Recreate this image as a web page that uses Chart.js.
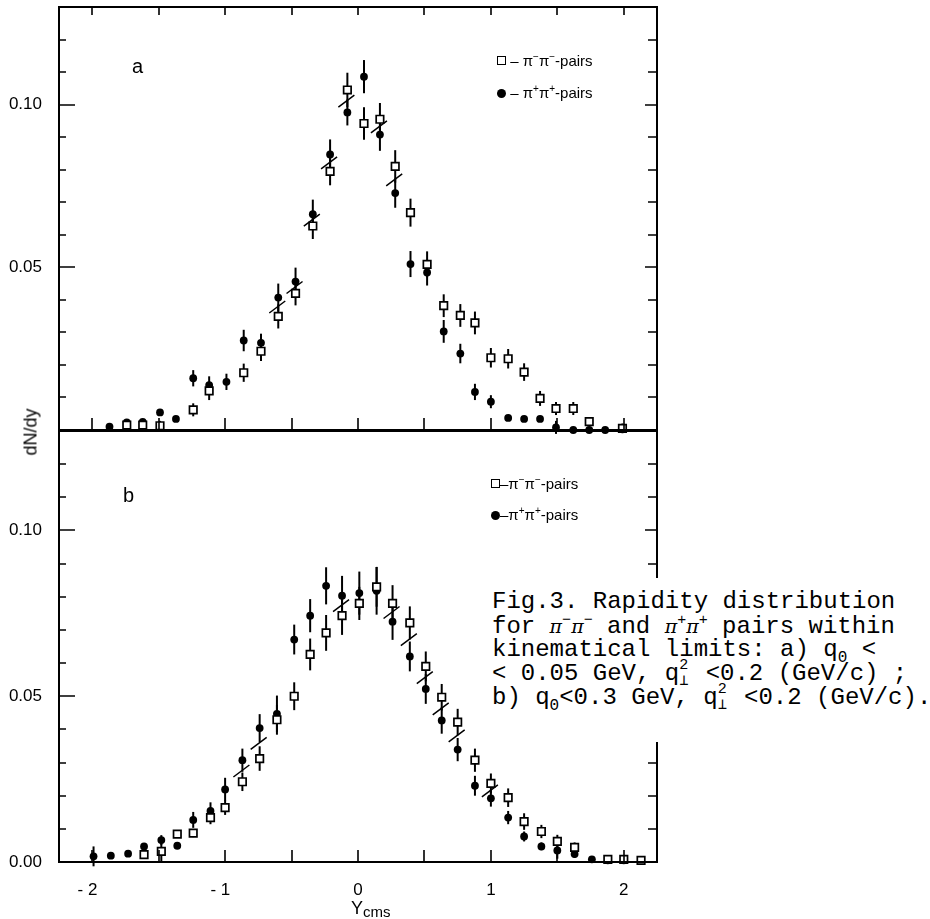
<!DOCTYPE html>
<html>
<head>
<meta charset="utf-8">
<script src="https://cdn.jsdelivr.net/npm/chart.js@4.4.1/dist/chart.umd.min.js"></script>
<style>
  body { margin: 0; background: #fff; }
  #page { position: relative; width: 930px; height: 919px; overflow: hidden; font-family: "Liberation Sans", Arial, sans-serif; color: #000; }
  canvas { position: absolute; left: 0; top: 0; }
  .txt { position: absolute; white-space: nowrap; }
  .legend { font-size: 15px; line-height: 18px; }
  .sq { display: inline-block; width: 7px; height: 7px; border: 1.6px solid #000; background: #fff; vertical-align: 1px; }
  .dot { display: inline-block; width: 9px; height: 9px; border-radius: 50%; background: #000; vertical-align: 0px; }
  .legend sup { font-size: 10px; line-height: 0; }
  #caption { left: 492px; top: 578px; padding: 12px 8px 32px 0; background: #fff; font-family: "Liberation Mono", "DejaVu Sans Mono", monospace; font-size: 24px; line-height: 24px; }
  #caption .ln { height: 24px; }
  #caption i { font-family: "DejaVu Serif", serif; font-size: 19px; }
  #caption sup { font-size: 15px; line-height: 0; }
  #caption sub { font-size: 16px; line-height: 0; }
  .st { display: inline-block; position: relative; width: 12px; height: 10px; }
  .st span { position: absolute; left: 0; font-size: 15px; line-height: 15px; }
</style>
</head>
<body>
<div id="page">
  <canvas id="chartA" width="930" height="919"></canvas>
  <canvas id="chartB" width="930" height="919"></canvas>

  <div class="txt" style="left:132px; top:56px; font-size:20px; line-height:20px;">a</div>
  <div class="txt" style="left:123px; top:485px; font-size:20px; line-height:20px;">b</div>

  <div class="txt legend" style="left:497px; top:52px;"><span class="sq"></span> – π<sup>−</sup>π<sup>−</sup>-pairs</div>
  <div class="txt legend" style="left:497px; top:84px;"><span class="dot"></span> – π<sup>+</sup>π<sup>+</sup>-pairs</div>
  <div class="txt legend" style="left:491px; top:475px;"><span class="sq"></span>–π<sup>−</sup>π<sup>−</sup>-pairs</div>
  <div class="txt legend" style="left:491px; top:506px;"><span class="dot"></span>–π<sup>+</sup>π<sup>+</sup>-pairs</div>

  <div class="txt" style="top:432px; left:31px; font-size:18px; transform: translate(-50%, -50%) rotate(-90deg);">dN/dy</div>
  <div class="txt" style="left:351px; top:899px; font-size:18px; line-height:18px;">Y<span style="font-size:15px; position:relative; top:3px;">cms</span></div>

  <div class="txt" id="caption">
    <div class="ln">Fig.3. Rapidity distribution</div>
    <div class="ln">for <i>π</i><sup>−</sup><i>π</i><sup>−</sup> and <i>π</i><sup>+</sup><i>π</i><sup>+</sup> pairs within</div>
    <div class="ln">kinematical limits: a) q<sub>0</sub> &lt;</div>
    <div class="ln">&lt; 0.05 GeV, q<span class="st"><span style="top:-12px">2</span><span style="top:4px">⊥</span></span> &lt;0.2 (GeV/c) ;</div>
    <div class="ln">b) q<sub>0</sub>&lt;0.3 GeV, q<span class="st"><span style="top:-12px">2</span><span style="top:4px">⊥</span></span> &lt;0.2 (GeV/c).</div>
  </div>
</div>

<script>
// rapidity bins, panel a
const binsA = [-1.87, -1.74, -1.62, -1.49, -1.37, -1.24, -1.12, -0.99, -0.86, -0.73, -0.60, -0.47, -0.34, -0.21, -0.08, 0.045,
               0.165, 0.28, 0.395, 0.52, 0.645, 0.77, 0.88, 1.0, 1.13, 1.25, 1.37, 1.49, 1.62, 1.74, 1.86, 1.99];
// pi- pi- pairs (open squares)
const minusA = [null, 0.0015, 0.0015, 0.0013, null, 0.0062, 0.012, null, 0.0176, 0.0242, 0.0349, 0.042, 0.0627, 0.0795, 0.1045, 0.0942,
                0.0955, 0.081, 0.0668, 0.0509, 0.0382, 0.0352, 0.0329, 0.0222, 0.0219, 0.0178, 0.0097, 0.0066, 0.0066, 0.0026, null, 0.0005];
const minusErrA = [null, 0.001, 0.001, 0.0015, null, 0.002, 0.0028, null, 0.0028, 0.003, 0.0037, 0.0037, 0.004, 0.0043, 0.0053, 0.005,
                   0.005, 0.005, 0.0043, 0.004, 0.0035, 0.0035, 0.0035, 0.003, 0.003, 0.0027, 0.0023, 0.002, 0.002, 0, null, 0.0015];
// pi+ pi+ pairs (full circles)
const plusA = [0.001, 0.0023, 0.0025, 0.0054, 0.0034, 0.0159, 0.0138, 0.0148, 0.0275, 0.0268, 0.0407, 0.0456, 0.0663, 0.0847, 0.0976, 0.1086,
               0.0908, 0.0728, 0.051, 0.0484, 0.0303, 0.0235, 0.0117, 0.0087, 0.0037, 0.0034, 0.0034, 0.0008, 0, 0, 0, null];
const plusErrA = [0, 0.0005, 0.0008, 0.001, 0, 0.0025, 0.0027, 0.0025, 0.0033, 0.0028, 0.0043, 0.0043, 0.0045, 0.0046, 0.004, 0.0051,
                  0.005, 0.0045, 0.004, 0.004, 0.0035, 0.003, 0.0025, 0.002, 0, 0, 0, 0.002, 0, 0, 0, null];
// bins where the overlap slash is drawn
const slashA = [10, 11, 12, 13, 14, 16, 17];

// rapidity bins, panel b
const binsB = [-1.99, -1.86, -1.73, -1.61, -1.48, -1.36, -1.24, -1.11, -1.0, -0.87, -0.74, -0.61, -0.48, -0.36, -0.24, -0.12, 0.01,
               0.14, 0.26, 0.39, 0.51, 0.63, 0.75, 0.88, 1.0, 1.13, 1.25, 1.38, 1.5, 1.63, 1.76, 1.88, 2.0, 2.13];
const minusB = [null, null, null, 0.0022, 0.0032, 0.0084, 0.0087, 0.0134, 0.0164, 0.0242, 0.0312, 0.0429, 0.050, 0.0626, 0.0691, 0.0743, 0.078,
                0.083, 0.078, 0.0721, 0.059, 0.0497, 0.0422, 0.0307, 0.0237, 0.0194, 0.0122, 0.0092, 0.0062, 0.0044, null, 0.0008, 0.0008, 0.0005];
const minusErrB = [null, null, null, 0.0008, 0.003, 0.001, 0.0012, 0.002, 0.0022, 0.0028, 0.0037, 0.0045, 0.0042, 0.0048, 0.0054, 0.0058, 0.005,
                   0.006, 0.0055, 0.005, 0.0045, 0.004, 0.004, 0.0035, 0.003, 0.0028, 0.0025, 0.002, 0.002, 0.0015, null, 0, 0.0012, 0];
const plusB = [0.0017, 0.0019, 0.0025, 0.0047, 0.0066, 0.0049, 0.0127, 0.0154, 0.0219, 0.0307, 0.0404, 0.0447, 0.0671, 0.0743, 0.0833, 0.0803, 0.0811,
               0.0818, 0.0725, 0.062, 0.0522, 0.0427, 0.0339, 0.023, 0.0192, 0.0134, 0.0077, 0.0047, 0.0035, 0.0024, 0.0008, 0.0005, 0.0005, null];
const plusErrB = [0.003, 0.0008, 0.0006, 0.001, 0.0015, 0.0008, 0.0024, 0.0026, 0.0035, 0.0035, 0.0042, 0.0055, 0.0045, 0.005, 0.0056, 0.006, 0.0065,
                  0.0072, 0.0055, 0.0045, 0.0045, 0.004, 0.0035, 0.003, 0.0025, 0.002, 0.0015, 0.0012, 0.0025, 0.0012, 0, 0, 0, null];
const slashB = [9, 10, 15, 18, 19, 20, 21, 22, 24];

// axes
const xMin = -2.25, xMax = 2.25, yMax = 0.13;
const xTickVals = [-2, -1.5, -1, -0.5, 0, 0.5, 1, 1.5, 2];
const xLabelVals = [-2, -1, 0, 1, 2];
const xLabels = ['- 2  ', '- 1  ', '0', '1', '2'];   // trailing spaces keep the digit over its tick
const yTickVals = [0.01, 0.02, 0.03, 0.04, 0.05, 0.06, 0.07, 0.08, 0.09, 0.10, 0.11, 0.12];
const yMajorVals = [0.05, 0.10];
const yLabelValsA = [0.05, 0.10];
const yLabelsA = ['0.05', '0.10'];
const yLabelValsB = [0, 0.05, 0.10];
const yLabelsB = ['0.00', '0.05', '0.10'];

document.addEventListener('DOMContentLoaded', () => {

    function points(bins, vals) {
        return bins.map((x, i) => vals[i] === null ? null : { x: x, y: vals[i] }).filter(p => p);
    }
    function errs(vals, err) {
        return err.filter((e, i) => vals[i] !== null);
    }

    // error bars, drawn under the markers
    const errorBars = {
        id: 'errorBars',
        beforeDatasetsDraw(chart) {
            const ctx = chart.ctx, y = chart.scales.y;
            ctx.save();
            ctx.strokeStyle = '#000';
            ctx.lineWidth = 2;
            chart.data.datasets.forEach((ds, i) => {
                const meta = chart.getDatasetMeta(i);
                meta.data.forEach((el, j) => {
                    const e = ds.errors[j];
                    if (!e) return;
                    const v = ds.data[j].y;
                    ctx.beginPath();
                    ctx.moveTo(el.x, y.getPixelForValue(v - e));
                    ctx.lineTo(el.x, y.getPixelForValue(v + e));
                    ctx.stroke();
                });
            });
            ctx.restore();
        }
    };

    // frame with inward ticks and the little overlap slashes
    const frame = {
        id: 'frame',
        afterDraw(chart, args, opts) {
            const ctx = chart.ctx, a = chart.chartArea, x = chart.scales.x, y = chart.scales.y;
            ctx.save();
            ctx.strokeStyle = '#000';
            ctx.lineWidth = 2;
            ctx.strokeRect(a.left, a.top, a.right - a.left, a.bottom - a.top);
            ctx.lineWidth = 1.6;
            ctx.beginPath();
            yTickVals.forEach(v => {
                const py = Math.round(y.getPixelForValue(v));
                const major = yMajorVals.includes(v);
                ctx.moveTo(a.left, py);
                ctx.lineTo(a.left + (major ? 16 : 7), py);
                ctx.moveTo(a.right, py);
                ctx.lineTo(a.right - (major ? 12 : 9), py);
            });
            xTickVals.forEach(v => {
                const px = Math.round(x.getPixelForValue(v));
                ctx.moveTo(px, a.bottom);
                ctx.lineTo(px, a.bottom - 12);
                if (opts.topTicks) {
                    ctx.moveTo(px, a.top);
                    ctx.lineTo(px, a.top + 8);
                }
            });
            ctx.stroke();

            ctx.lineWidth = 1.5;
            ctx.beginPath();
            opts.slashes.forEach(i => {
                const px = x.getPixelForValue(opts.bins[i]);
                const py = y.getPixelForValue((opts.a[i] + opts.b[i]) / 2);
                ctx.moveTo(px - 9, py + 6);
                ctx.lineTo(px + 7, py - 6);
            });
            ctx.stroke();
            ctx.restore();
        }
    };

    const tickFont = { family: '"Liberation Sans", Arial, sans-serif', size: 17 };

    function makeChart(id, bins, minus, minusErr, plus, plusErr, slashes, yLabelVals, yLabels, padding, showX) {
        var ctx = document.getElementById(id).getContext('2d');
        return new Chart(ctx, {
            type: 'scatter',
            data: {
                datasets: [{
                    label: 'pi- pi- pairs',
                    data: points(bins, minus),
                    errors: errs(minus, minusErr),
                    pointStyle: 'rect',
                    pointRadius: 5.3,
                    backgroundColor: '#fff',
                    borderColor: '#000',
                    borderWidth: 1.7,
                    clip: false,
                    order: 0
                }, {
                    label: 'pi+ pi+ pairs',
                    data: points(bins, plus),
                    errors: errs(plus, plusErr),
                    pointStyle: 'circle',
                    pointRadius: 3.9,
                    backgroundColor: '#000',
                    borderColor: '#000',
                    borderWidth: 0,
                    clip: false,
                    order: 1
                }]
            },
            options: {
                responsive: false,
                animation: false,
                events: [],
                layout: { padding: padding },
                plugins: {
                    legend: { display: false },
                    tooltip: { enabled: false },
                    frame: { slashes: slashes, bins: bins, a: minus, b: plus, topTicks: !showX }
                },
                scales: {
                    x: {
                        type: 'linear',
                        min: xMin,
                        max: xMax,
                        display: showX,
                        grid: { display: false },
                        border: { display: false },
                        afterBuildTicks: s => { s.ticks = xLabelVals.map(v => ({ value: v })); },
                        ticks: { callback: (v, i) => xLabels[i], padding: 10, font: tickFont, color: '#000', maxRotation: 0 },
                        afterFit: s => {
                            s.height = showX ? 57 : 0;
                            s.paddingLeft = 0;
                            s.paddingRight = 0;
                        }
                    },
                    y: {
                        min: 0,
                        max: yMax,
                        grid: { display: false },
                        border: { display: false },
                        afterBuildTicks: s => { s.ticks = yLabelVals.map(v => ({ value: v })); },
                        ticks: { callback: (v, i) => yLabels[i], padding: 9, font: tickFont, color: '#000' },
                        afterFit: s => {
                            s.width = 59;
                            s.paddingTop = 0;
                            s.paddingBottom = 0;
                        }
                    }
                }
            },
            plugins: [errorBars, frame]
        });
    }

    makeChart('chartA', binsA, minusA, minusErrA, plusA, plusErrA, slashA, yLabelValsA, yLabelsA,
        { top: 4, right: 273, bottom: 489, left: 0 }, false);
    makeChart('chartB', binsB, minusB, minusErrB, plusB, plusErrB, slashB, yLabelValsB, yLabelsB,
        { top: 431, right: 273, bottom: 0, left: 0 }, true);
});
</script>
</body>
</html>
